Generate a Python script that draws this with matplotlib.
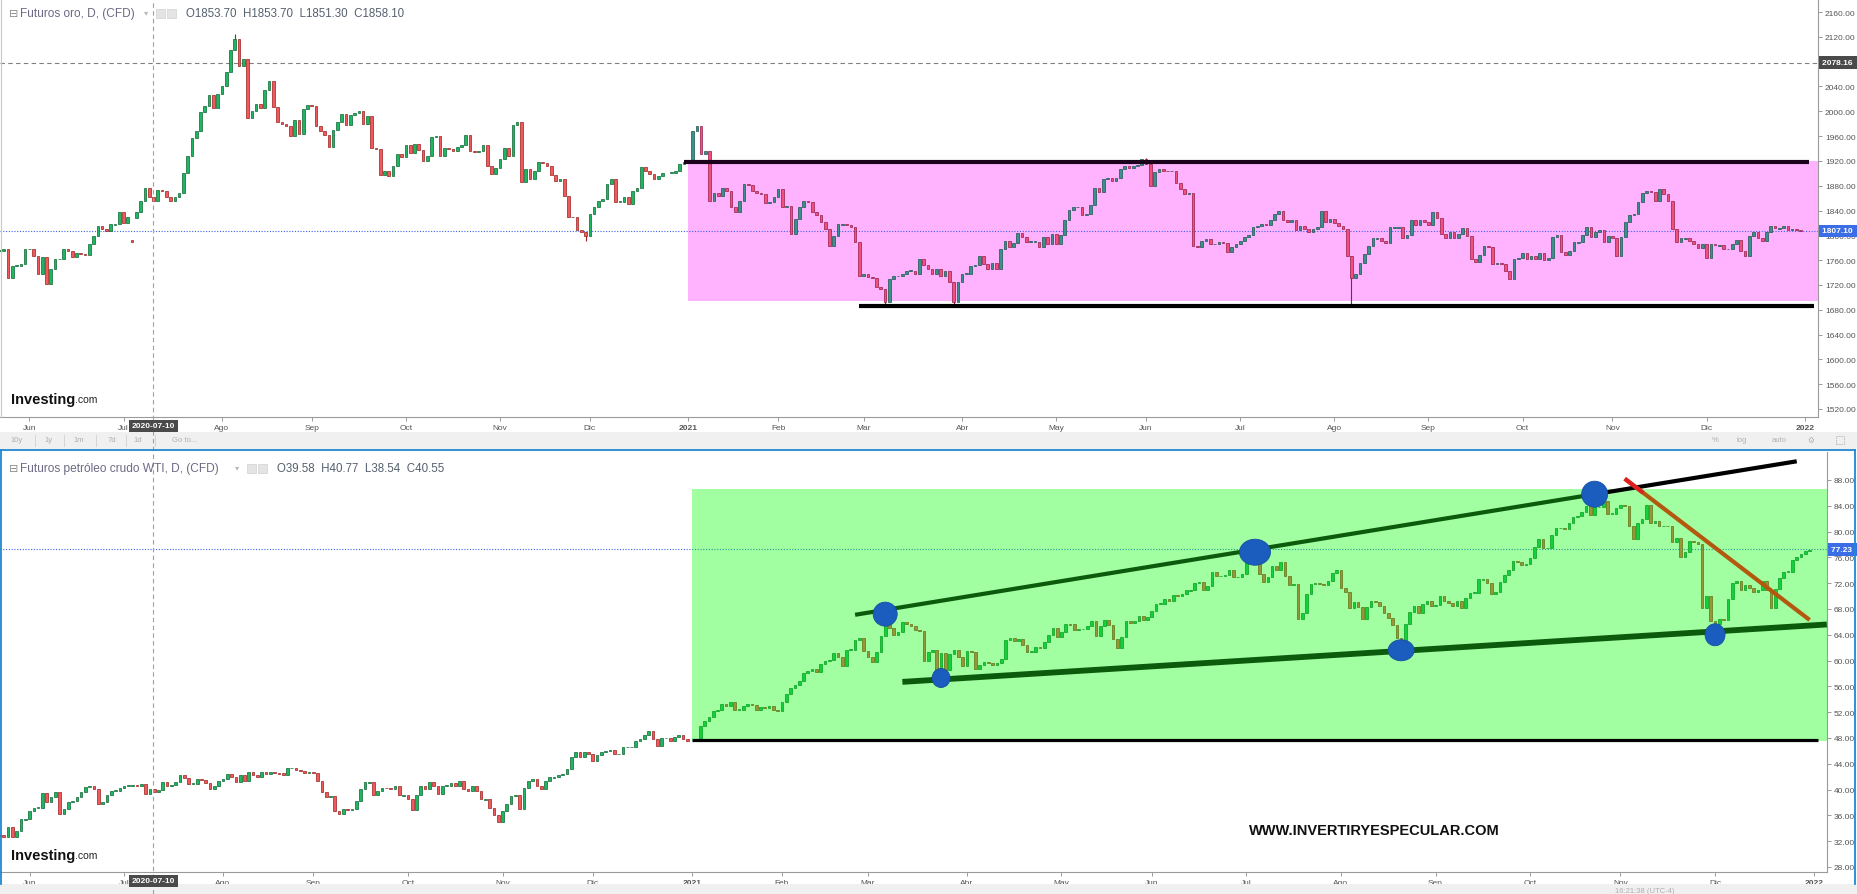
import matplotlib
matplotlib.use("Agg")
import matplotlib.pyplot as plt
import matplotlib.transforms as mtransforms
from matplotlib.patches import Ellipse, Rectangle
from matplotlib.lines import Line2D
import numpy as np
import pandas as pd

nan = float("nan")

# ---- Futuros oro: daily closes, one list per month (Mon-Fri slots)
gold_2020_05 = [1775, 1778, 1732, 1751, 1751, 1754, 1778]
gold_2020_06 = [1778, 1767, 1737, 1765, 1722, 1746, 1762, 1762, 1778, 1774, 1765, 1772, 1770, 1768, 1786, 1799, 1815, 1810, 1807, 1818, 1818, 1838]
gold_2020_07 = [1820, 1829, 1790, 1837, 1856, 1877, 1861, 1856, 1873, 1872, 1862, 1856, 1862, 1869, 1900, 1928, 1957, 1968, 1999, 2009, 2026, 2006, 2028]
gold_2020_08 = [2040, 2064, 2099, 2116, 2073, 2084, 1989, 2000, 2011, 2005, 2035, 2048, 2007, 1982, 1980, 1976, 1960, 1986, 1964, 2004, 2010]
gold_2020_09 = [2009, 1976, 1968, 1962, 1942, 1970, 1983, 1995, 1978, 1994, 1997, 2001, 1979, 1993, 1941, 1939, 1898, 1904, 1895, 1911, 1931, 1927]
gold_2020_10 = [1945, 1932, 1947, 1937, 1920, 1928, 1959, 1960, 1928, 1940, 1939, 1936, 1943, 1946, 1961, 1936, 1935, 1936, 1945, 1911, 1899, 1909]
gold_2020_11 = [1923, 1941, 1928, 1978, 1983, 1886, 1907, 1891, 1904, 1918, 1917, 1912, 1898, 1887, 1891, 1864, 1830, 1829, 1808, 1806, 1799]
gold_2020_12 = [1835, 1845, 1856, 1858, 1883, 1891, 1854, 1854, 1861, 1850, 1872, 1876, 1910, 1904, 1899, 1891, 1896, 1901, nan, 1901, 1904, 1915, 1918]
gold_2021_01 = [nan, 1968, 1977, 1931, 1936, 1856, 1869, 1864, 1876, 1871, 1845, 1838, 1856, 1882, 1881, 1872, 1869, 1866, 1852, 1853, 1861]
gold_2021_02 = [1875, 1845, 1848, 1802, 1826, 1845, 1856, 1853, 1838, 1833, 1822, 1810, 1783, 1799, 1818, 1818, 1817, 1814, 1789, 1735]
gold_2021_03 = [1738, 1733, 1732, 1716, 1713, 1692, 1730, 1734, 1735, 1738, 1743, 1743, 1738, 1762, 1752, 1745, 1738, 1746, 1735, 1743, 1724, 1692, 1724]
gold_2021_04 = [1738, 1738, 1751, 1752, 1766, 1754, 1746, 1756, 1746, 1778, 1791, 1781, 1788, 1803, 1797, 1790, 1790, 1790, 1781, 1797, 1786, 1802]
gold_2021_05 = [1786, 1800, 1825, 1841, 1845, 1846, 1832, 1834, 1849, 1877, 1870, 1891, 1893, 1888, 1893, 1907, 1911, 1908, 1912, 1913, 1923]
gold_2021_06 = [1915, 1880, 1902, 1907, 1904, 1903, 1904, 1885, 1875, 1866, 1869, 1783, 1781, 1791, 1794, 1786, 1786, 1790, 1788, 1773, 1781, 1786]
gold_2021_07 = [1791, 1797, 1800, 1813, 1815, 1818, 1816, 1824, 1834, 1840, 1824, 1821, 1824, 1808, 1815, 1810, 1806, 1810, 1813, 1840, 1821, 1826]
gold_2021_08 = [1820, 1815, 1810, 1767, 1731, 1738, 1756, 1770, 1783, 1795, 1795, 1791, 1788, 1813, 1813, 1813, 1796, 1800, 1824, 1817, 1824, 1821]
gold_2021_09 = [1816, 1837, 1828, 1802, 1796, 1805, 1796, 1802, 1811, 1799, 1762, 1757, 1768, 1783, 1781, 1754, 1756, 1754, 1743, 1729, 1762, 1764]
gold_2021_10 = [1772, 1762, 1767, 1762, 1771, 1761, 1764, 1798, 1800, 1773, 1768, 1775, 1789, 1789, 1800, 1813, 1797, 1805, 1808, 1789, 1799]
gold_2021_11 = [1795, 1767, 1797, 1821, 1832, 1834, 1853, 1869, 1872, 1870, 1856, 1875, 1867, 1856, 1810, 1789, 1795, 1795, 1791, 1786, 1779, 1786]
gold_2021_12 = [1764, 1786, 1784, 1784, 1778, 1778, 1786, 1792, 1775, 1767, 1799, 1806, 1795, 1791, 1805, 1815, 1811, 1811, 1815, 1808, 1810, 1809, 1807]

gold_opens = {"2020-07-03": 1792, "2020-07-06": 1828}
gold_lows = {"2021-08-06": 1684, "2021-03-08": 1687, "2021-03-30": 1687, "2020-11-30": 1791}
gold_highs = {"2020-08-06": 2124, "2021-06-01": 1924}

# ---- Futuros petroleo crudo WTI: daily closes
oil_2020_05 = [32.9, 32.6, 34.2, 32.6, 33.6, 35.4, 35.4]
oil_2020_06 = [36.7, 37.2, 37.2, 39.5, 38.0, 38.8, 39.6, 36.2, 37.0, 38.0, 38.3, 38.8, 39.6, 40.4, 40.6, 40.1, 37.8, 38.0, 39.1, 39.8, 39.8, 40.3]
oil_2020_07 = [40.6, 40.6, 40.7, 40.6, 40.9, 39.3, 40.1, 39.6, 40.0, 41.1, 40.6, 40.7, 41.1, 42.2, 41.8, 40.9, 40.9, 41.6, 41.5, 41.0, 40.1, 40.6, 41.4]
oil_2020_08 = [41.6, 42.4, 41.9, 41.1, 42.2, 41.4, 42.7, 42.2, 41.9, 42.7, 42.4, 42.8, 42.6, 42.5, 42.2, 43.3, 43.4, 43.1, 42.9, 42.6, 42.8]
oil_2020_09 = [42.6, 41.4, 39.6, 38.8, 39.0, 36.7, 36.2, 37.0, 36.9, 37.0, 38.3, 40.1, 41.1, 41.2, 39.1, 39.8, 40.3, 40.2, 40.1, 40.5, 39.1, 39.1]
oil_2020_10 = [38.5, 36.9, 39.1, 40.6, 40.1, 41.1, 40.6, 39.3, 40.6, 40.6, 41.0, 40.6, 41.4, 40.1, 39.8, 40.6, 39.8, 38.5, 38.5, 37.2, 36.0, 34.9]
oil_2020_11 = [36.7, 37.7, 39.0, 39.1, 37.0, 40.3, 41.4, 41.7, 40.6, 40.1, 41.4, 41.9, 41.9, 42.2, 42.4, 43.2, 45.0, 45.8, 45.0, 45.8, 45.5]
oil_2020_12 = [44.5, 45.3, 45.8, 46.0, 46.2, 45.5, 45.5, 46.6, 46.6, 46.6, 47.6, 47.8, 48.4, 49.1, 47.8, 46.8, 48.0, 48.0, 47.6, 48.1, 48.4, 47.8, 47.6]
oil_2021_01 = [nan, 47.8, 49.9, 50.6, 51.2, 52.2, 52.3, 53.2, 52.9, 53.6, 52.4, 52.4, 53.0, 53.3, 53.1, 52.3, 52.8, 52.6, 52.9, 52.3, 52.2]
oil_2021_02 = [53.6, 54.8, 55.7, 56.2, 56.9, 58.0, 58.4, 58.7, 58.2, 59.5, 60.0, 60.1, 61.1, 60.5, 59.2, 61.7, 61.7, 63.2, 63.5, 61.5]
oil_2021_03 = [60.6, 59.8, 61.3, 63.8, 66.1, 65.1, 64.0, 64.4, 66.0, 65.6, 65.4, 64.8, 64.6, 60.0, 61.4, 61.6, 57.8, 61.2, 58.6, 61.0, 61.6, 60.6, 59.2]
oil_2021_04 = [61.5, 61.4, 58.7, 59.3, 59.8, 59.6, 59.3, 59.7, 60.2, 63.2, 63.5, 63.1, 63.4, 62.4, 61.4, 61.4, 62.1, 61.9, 62.9, 63.9, 65.0, 63.6]
oil_2021_05 = [64.5, 65.7, 65.6, 64.7, 64.9, 64.9, 65.3, 66.1, 63.8, 65.4, 66.3, 65.5, 63.4, 61.9, 63.6, 66.1, 65.8, 66.2, 66.9, 66.3, 66.8]
oil_2021_06 = [67.7, 68.8, 68.8, 69.6, 69.2, 70.1, 70.0, 70.3, 70.9, 70.9, 72.1, 72.2, 71.0, 71.6, 73.7, 73.1, 73.1, 73.3, 74.1, 72.9, 73.0, 73.5]
oil_2021_07 = [75.2, 75.2, 75.5, 73.4, 72.2, 72.9, 74.6, 74.1, 75.3, 73.1, 71.7, 71.8, 66.4, 67.4, 70.3, 71.9, 72.1, 71.9, 71.7, 72.4, 73.6, 74.0]
oil_2021_08 = [71.3, 70.6, 68.2, 69.1, 68.3, 66.5, 68.3, 69.3, 69.1, 68.4, 67.3, 66.6, 65.5, 63.5, 62.3, 65.6, 67.5, 68.4, 67.4, 68.7, 69.2, 68.5]
oil_2021_09 = [68.6, 70.0, 69.3, 69.0, 68.4, 69.3, 68.1, 69.7, 70.5, 70.5, 72.6, 72.6, 72.0, 70.3, 70.6, 72.2, 73.3, 74.0, 75.5, 75.3, 74.8, 75.0]
oil_2021_10 = [75.9, 77.6, 78.9, 77.4, 77.5, 79.4, 80.5, 80.6, 80.4, 81.3, 82.3, 82.4, 83.0, 83.9, 82.5, 83.8, 83.8, 84.7, 82.7, 82.8, 83.6]
oil_2021_11 = [84.1, 83.9, 80.9, 78.8, 81.3, 81.9, 84.2, 81.3, 81.6, 80.8, 80.9, 80.8, 78.4, 79.0, 76.1, 76.8, 78.5, 78.4, 78.0, 68.2, 70.0, 66.2]
oil_2021_12 = [65.6, 66.5, 66.3, 69.5, 72.1, 72.4, 70.9, 71.7, 71.3, 70.7, 70.9, 72.4, 70.9, 68.2, 71.1, 72.8, 73.8, 73.8, 75.6, 76.0, 76.6, 77.0, 77.2]

oil_opens = {}
oil_lows = {}
oil_highs = {}

# ---- axis labels and drawn annotations
month_labels = ["Jun", "Jul", "Ago", "Sep", "Oct", "Nov", "Dic", "2021", "Feb", "Mar", "Abr",
                "May", "Jun", "Jul", "Ago", "Sep", "Oct", "Nov", "Dic", "2022"]
gold_ticks = list(range(1520, 2161, 40))
oil_ticks = list(range(28, 89, 4))

gold_last, gold_alert = 1807.10, 2078.16
oil_last = 77.23
cursor_date = "2020-07-10"

gold_zone = (["2021-01-01", "2022-01-06"], [1694, 1920])
gold_resist = (["2020-12-31", "2022-01-04"], [1919, 1919])
gold_support = (["2021-02-26", "2022-01-05"], [1686, 1686])

oil_zone = (["2021-01-01", "2022-01-06"], [47.5, 86.6])
oil_base = (["2021-01-01", "2022-01-04"], [47.7, 47.7])
oil_upper = (["2021-02-24", "2021-10-22", "2021-12-28"], [67.1, 85.8, 90.9])
oil_lower = (["2021-03-11", "2022-01-06"], [56.7, 65.6])
oil_fall = (["2021-11-02", "2021-12-31"], [88.2, 66.3])
oil_dot_dates = ["2021-03-05", "2021-03-24", "2021-07-05", "2021-08-20", "2021-10-22", "2021-12-01"]
oil_dot_prices = [67.2, 57.3, 76.8, 61.6, 85.8, 64.0]

gold_close = (gold_2020_05 + gold_2020_06 + gold_2020_07 + gold_2020_08 + gold_2020_09 + gold_2020_10
              + gold_2020_11 + gold_2020_12 + gold_2021_01 + gold_2021_02 + gold_2021_03 + gold_2021_04
              + gold_2021_05 + gold_2021_06 + gold_2021_07 + gold_2021_08 + gold_2021_09 + gold_2021_10
              + gold_2021_11 + gold_2021_12)
oil_close = (oil_2020_05 + oil_2020_06 + oil_2020_07 + oil_2020_08 + oil_2020_09 + oil_2020_10
             + oil_2020_11 + oil_2020_12 + oil_2021_01 + oil_2021_02 + oil_2021_03 + oil_2021_04
             + oil_2021_05 + oil_2021_06 + oil_2021_07 + oil_2021_08 + oil_2021_09 + oil_2021_10
             + oil_2021_11 + oil_2021_12)

dates = pd.bdate_range("2020-05-21", "2021-12-31")
slots = pd.bdate_range("2020-05-21", "2022-01-14")
assert len(gold_close) == len(dates) and len(oil_close) == len(dates)


def pos(d):
    return slots.get_loc(pd.Timestamp(d))


plt.rcParams["font.family"] = ["Liberation Sans", "DejaVu Sans"]

W, H = 1857, 895
fig = plt.figure(figsize=(W / 100, H / 100), dpi=100)
fig.patch.set_facecolor("white")


def fx(px):
    return px / W


def fy(py):
    return 1 - py / H


ax1 = fig.add_axes([0, fy(418), fx(1818), 418 / H])
ax2 = fig.add_axes([0, fy(873), fx(1827), (873 - 453) / H])
XLIM = (0.13, 425.04)

PLAIN = ("#20b561", "#0a6630", "#f05a5a", "#9a1d1d")
IN_PINK = ("#3a9189", "#1b5350", "#f0507c", "#951a45")


def candles(ax, closes, min_body, opens, lows, highs, zone_start=None, zone_cols=PLAIN):
    xs, bots, hts, fc, ec = [], [], [], [], []
    prev = None
    for i, c in enumerate(closes):
        if np.isnan(c):
            continue
        d = dates[i].strftime("%Y-%m-%d")
        o = opens.get(d, c if prev is None else prev)
        up = c >= o
        cols = zone_cols if (zone_start is not None and i >= zone_start) else PLAIN
        lo, hi = min(o, c), max(o, c)
        h = max(hi - lo, min_body)
        xs.append(i)
        bots.append((lo + hi) / 2 - h / 2)
        hts.append(h)
        fc.append(cols[0] if up else cols[2])
        ec.append(cols[1] if up else cols[3])
        if d in lows or d in highs:
            ax.vlines(i, lows.get(d, lo), highs.get(d, hi), color=ec[-1], lw=0.8, zorder=2.9)
        prev = c
    ax.bar(xs, hts, bottom=bots, width=0.62, color=fc, edgecolor=ec, linewidth=0.5, zorder=3)


def style_axis(ax, ticks, ylim, fmt):
    ax.set_xlim(*XLIM)
    ax.set_ylim(*ylim)
    for s in ("left", "top"):
        ax.spines[s].set_visible(False)
    for s in ("right", "bottom"):
        ax.spines[s].set_color("#9a9a9a")
        ax.spines[s].set_linewidth(0.8)
    ax.yaxis.tick_right()
    ax.set_yticks(ticks)
    ax.set_yticklabels([fmt.format(v) for v in ticks])
    month_starts = pd.date_range("2020-06-01", "2022-01-01", freq="MS")
    ax.set_xticks([slots.searchsorted(m) for m in month_starts])
    ax.set_xticklabels(month_labels)
    for lab in ax.get_xticklabels():
        if lab.get_text() in ("2021", "2022"):
            lab.set_fontweight("bold")
            lab.set_color("#333333")
    ax.tick_params(axis="both", labelsize=6, colors="#9a9a9a", labelcolor="#555555",
                   length=3, width=0.7, pad=2)


def price_tag(ax, value, text, color):
    tr = mtransforms.blended_transform_factory(ax.transAxes, ax.transData)
    ax.text(1.002, value, text, transform=tr, ha="left", va="center", fontsize=6,
            fontweight="bold", color="white", zorder=10, clip_on=False,
            bbox=dict(boxstyle="square,pad=0.35", fc=color, ec="none"))


# ---------------- top panel: gold
candles(ax1, gold_close, 1.2, gold_opens, gold_lows, gold_highs,
        zone_start=pos(gold_zone[0][0]), zone_cols=IN_PINK)
zx = [pos(d) for d in gold_zone[0]]
ax1.fill_between(zx, gold_zone[1][0], gold_zone[1][1], color="#ffb3ff", lw=0, zorder=1)
ax1.plot([pos(d) for d in gold_resist[0]], gold_resist[1], color="#1a001a", lw=3, zorder=5,
         solid_capstyle="butt")
ax1.plot([pos(d) for d in gold_support[0]], gold_support[1], color="black", lw=3, zorder=5,
         solid_capstyle="butt")
ax1.axhline(gold_alert, color="#808080", lw=0.8, ls=(0, (4, 3)), zorder=2)
ax1.axhline(gold_last, color="#3d5ff0", lw=0.8, ls=(0, (1, 1.5)), zorder=2)
style_axis(ax1, gold_ticks, (1507.1, 2181.0), "{:.2f}")
price_tag(ax1, gold_alert, "2078.16 ", "#4a4a4a")
price_tag(ax1, gold_last, "1807.10 ", "#3b6de6")

# ---------------- bottom panel: WTI
candles(ax2, oil_close, 0.12, oil_opens, oil_lows, oil_highs)
zx = [pos(d) for d in oil_zone[0]]
ax2.fill_between(zx, oil_zone[1][0], oil_zone[1][1], color="#00ff00", alpha=0.37, lw=0, zorder=4)
ax2.plot([pos(d) for d in oil_base[0]], oil_base[1], color="black", lw=2.3, zorder=5,
         solid_capstyle="butt")
ux = [pos(d) for d in oil_upper[0]]
ax2.plot(ux[:2], oil_upper[1][:2], color="#0c5a0c", lw=3, zorder=5, solid_capstyle="butt")
ax2.plot(ux[1:], oil_upper[1][1:], color="black", lw=3, zorder=5, solid_capstyle="butt")
ax2.plot([pos(d) for d in oil_lower[0]], oil_lower[1], color="#0c5a0c", lw=4.2, zorder=5,
         solid_capstyle="butt")
fx0, fx1 = [pos(d) for d in oil_fall[0]]
fy0, fy1 = oil_fall[1]
ax2.plot([fx0, fx1], [fy0, fy1], color="#b3580e", lw=3, zorder=5, solid_capstyle="butt")
ax2.plot([fx0, fx0 + 0.1 * (fx1 - fx0)], [fy0, fy0 + 0.1 * (fy1 - fy0)], color="#e02020",
         lw=3, zorder=5, solid_capstyle="butt")
dot_px = [(24, 24), (18, 19), (31, 26), (26, 21), (26, 26), (20, 22)]
for d, p, (wp, hp) in zip(oil_dot_dates, oil_dot_prices, dot_px):
    ax2.add_patch(Ellipse((pos(d), p), wp / 4.2998, hp / 6.45, fc="#1b5cbf", ec="#174f9f",
                          lw=0.6, zorder=6))
ax2.axhline(oil_last, color="#3d5ff0", lw=0.8, ls=(0, (1, 1.5)), zorder=2)
style_axis(ax2, oil_ticks, (27.22, 92.34), "{:.2f}")
price_tag(ax2, oil_last, "77.23  ", "#3b6de6")

# ---------------- chrome: toolbars, borders, headers, cursor
fig.patches.append(Rectangle((0, fy(450)), 1, (450 - 433) / H, transform=fig.transFigure,
                             fc="#f0f0f0", ec="none", zorder=0))
fig.patches.append(Rectangle((0, 0), 1, (895 - 885) / H, transform=fig.transFigure,
                             fc="#f0f0f0", ec="none", zorder=0))
for xa, ya, xb, yb in [(1, 451, 1855, 451), (1, 451, 1, 885), (1855, 451, 1855, 885)]:
    fig.add_artist(Line2D([fx(xa), fx(xb)], [fy(ya), fy(yb)], color="#1e88d0", lw=1.3))
fig.add_artist(Line2D([fx(1), fx(1)], [fy(0), fy(418)], color="#c8c8c8", lw=0.8))

tb = dict(fontsize=5.5, color="#b0b0b0", va="center")
for px, t in [(17, "10y"), (49, "1y"), (79, "1m"), (112, "7d"), (138, "1d"), (172, "Go to...")]:
    fig.text(fx(px), fy(441), t, ha="center" if px < 170 else "left", **tb)
for px in (35, 64, 96, 126, 155):
    fig.add_artist(Line2D([fx(px), fx(px)], [fy(436), fy(447)], color="#d0d0d0", lw=0.6))
for px, t in [(1715, "%"), (1742, "log"), (1779, "auto"), (1811, "⚙")]:
    fig.text(fx(px), fy(441), t, ha="center", **tb)
# fullscreen icon drawn as a small square outline
fig.patches.append(Rectangle((fx(1836), fy(445)), 8 / W, 8 / H, transform=fig.transFigure,
                             fc="none", ec="#b8b8b8", lw=0.6, ls=(0, (2, 1))))
fig.text(fx(1645), fy(892), "16:21:38 (UTC-4)", ha="center", **tb)


def header(y, title, t_end, ohlc):
    fig.text(fx(9), fy(y), "⊟", fontsize=8, color="#8a8a8a", va="center")
    fig.text(fx(20), fy(y), title, fontsize=8.6, color="#6c6a84", va="center")
    fig.text(fx(t_end + 5), fy(y), "▾", fontsize=6, color="#b8b8b8", va="center")
    for k in range(2):
        fig.patches.append(Rectangle((fx(t_end + 17 + 11 * k), fy(y + 4.5)), 9 / W, 9 / H,
                                     transform=fig.transFigure, fc="#e4e4e4", ec="#d0d0d0",
                                     lw=0.5))
    fig.text(fx(t_end + 47), fy(y), ohlc, fontsize=8.3, color="#55606e", va="center")


header(14, "Futuros oro, D, (CFD)", 139, "O1853.70  H1853.70  L1851.30  C1858.10")
header(469, "Futuros petróleo crudo WTI, D, (CFD)", 230, "O39.58  H40.77  L38.54  C40.55")

cx = fx((pos(cursor_date) - XLIM[0]) / (XLIM[1] - XLIM[0]) * 1818)
fig.add_artist(Line2D([cx, cx], [0, 1], color="#a0a0a0", lw=0.8, ls=(0, (4, 3)), zorder=1))
for y in (427, 882):
    fig.text(cx, fy(y), "2020-07-10", ha="center", va="center", fontsize=6, fontweight="bold",
             color="white", zorder=10,
             bbox=dict(boxstyle="square,pad=0.3", fc="#4a4a4a", ec="none"))

# Investing.com logos, one per panel
for ax, y in ((ax1, 400), (ax2, 856)):
    t1 = ax.text(fx(11), fy(y), "Investing", transform=fig.transFigure,
                 fontsize=10.5, fontweight="bold", color="#111111", va="center", zorder=8)
    ax.annotate(".com", xy=(1, 0.12), xycoords=t1, ha="left", va="bottom", fontsize=7.5,
                color="#222222", annotation_clip=False, zorder=8)

fig.text(fx(1374), fy(831), "WWW.INVERTIRYESPECULAR.COM", ha="center", va="center",
         fontsize=10.5, fontweight="bold", color="#111111")

fig.savefig("out.png", dpi=100)
